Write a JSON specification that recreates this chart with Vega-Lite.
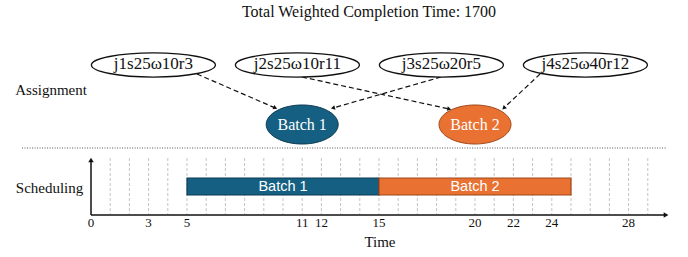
{
  "$schema": "https://vega.github.io/schema/vega-lite/v6.json",
  "width": 688,
  "height": 257,
  "autosize": {"type": "fit", "contains": "padding"},
  "padding": 0,
  "config": {"view": {"stroke": null}, "axis": {"disable": true}},
  "datasets": {
    "grid": [{"t":1},{"t":2},{"t":3},{"t":4},{"t":5},{"t":6},{"t":7},{"t":8},{"t":9},{"t":10},{"t":11},{"t":12},{"t":13},{"t":14},{"t":15},{"t":16},{"t":17},{"t":18},{"t":19},{"t":20},{"t":21},{"t":22},{"t":23},{"t":24},{"t":25},{"t":26},{"t":27},{"t":28},{"t":29}],
    "separator": [{"x": -3.59, "x2": 30.0, "y": 148}],
    "axes": [
      {"axis": "Time", "x": 0, "y": 215, "x2": 29.95, "y2": 215},
      {"axis": "Scheduling", "x": 0, "y": 215, "x2": 0, "y2": 160}
    ],
    "ticks": [{"t":0},{"t":3},{"t":5},{"t":11},{"t":12},{"t":15},{"t":20},{"t":22},{"t":24},{"t":28}],
    "schedule": [
      {"batch": "Batch 1", "start": 5, "end": 15},
      {"batch": "Batch 2", "start": 15, "end": 25}
    ],
    "jobs": [
      {"job": "j1s25ω10r3", "x": 3.25, "y": 65},
      {"job": "j2s25ω10r11", "x": 10.75, "y": 65},
      {"job": "j3s25ω20r5", "x": 18.25, "y": 65},
      {"job": "j4s25ω40r12", "x": 25.75, "y": 65}
    ],
    "batches": [
      {"batch": "Batch 1", "x": 11, "y": 124.5},
      {"batch": "Batch 2", "x": 20, "y": 124.5}
    ],
    "assign": [
      {"job": "j1s25ω10r3", "batch": "Batch 1", "x": 5.52, "y": 74, "x2": 9.6, "y2": 108},
      {"job": "j2s25ω10r11", "batch": "Batch 2", "x": 10.99, "y": 77, "x2": 18.66, "y2": 109},
      {"job": "j3s25ω20r5", "batch": "Batch 1", "x": 18.23, "y": 77, "x2": 12.6, "y2": 108},
      {"job": "j4s25ω40r12", "batch": "Batch 2", "x": 23.39, "y": 74, "x2": 21.5, "y2": 108}
    ],
    "labels": [
      {"text": "Assignment", "x": -2.08, "y": 90},
      {"text": "Scheduling", "x": -2.16, "y": 188},
      {"text": "Time", "x": 15.05, "y": 242}
    ],
    "title": [{"text": "Total Weighted Completion Time: 1700", "x": 14.48, "y": 12}]
  },
  "layer": [
    {
      "data": {"name": "grid"},
      "mark": {"type": "rule", "color": "#c4c4c4", "strokeWidth": 1, "strokeDash": [3, 2]},
      "encoding": {
        "x": {"field": "t", "type": "quantitative", "scale": {"domain": [-4.74, 31.094], "nice": false, "zero": false}},
        "y": {"datum": 158, "type": "quantitative", "scale": {"domain": [0, 257], "reverse": true, "nice": false, "zero": false}},
        "y2": {"datum": 214}
      }
    },
    {
      "data": {"name": "separator"},
      "mark": {"type": "rule", "color": "#555555", "strokeWidth": 1, "strokeDash": [1, 1.5]},
      "encoding": {
        "x": {"field": "x", "type": "quantitative", "scale": {"domain": [-4.74, 31.094], "nice": false, "zero": false}},
        "x2": {"field": "x2"},
        "y": {"field": "y", "type": "quantitative", "scale": {"domain": [0, 257], "reverse": true, "nice": false, "zero": false}}
      }
    },
    {
      "data": {"name": "axes"},
      "mark": {"type": "rule", "color": "#111111", "strokeWidth": 1.5},
      "encoding": {
        "x": {"field": "x", "type": "quantitative", "scale": {"domain": [-4.74, 31.094], "nice": false, "zero": false}},
        "x2": {"field": "x2"},
        "y": {"field": "y", "type": "quantitative", "scale": {"domain": [0, 257], "reverse": true, "nice": false, "zero": false}},
        "y2": {"field": "y2"}
      }
    },
    {
      "data": {"name": "axes"},
      "transform": [{"calculate": "atan2((datum.x2 - datum.x) * 19.2, datum.y - datum.y2) * 180 / PI", "as": "angle"}],
      "mark": {"type": "point", "shape": "triangle-up", "filled": true, "color": "#111111", "size": 30, "opacity": 1},
      "encoding": {
        "x": {"field": "x2", "type": "quantitative", "scale": {"domain": [-4.74, 31.094], "nice": false, "zero": false}},
        "y": {"field": "y2", "type": "quantitative", "scale": {"domain": [0, 257], "reverse": true, "nice": false, "zero": false}},
        "angle": {"field": "angle", "type": "quantitative", "scale": null}
      }
    },
    {
      "data": {"name": "ticks"},
      "mark": {"type": "text", "font": "Liberation Serif", "fontSize": 13, "color": "#111111", "baseline": "middle", "align": "center"},
      "encoding": {
        "x": {"field": "t", "type": "quantitative", "scale": {"domain": [-4.74, 31.094], "nice": false, "zero": false}},
        "y": {"datum": 223, "type": "quantitative", "scale": {"domain": [0, 257], "reverse": true, "nice": false, "zero": false}},
        "text": {"field": "t", "type": "quantitative"}
      }
    },
    {
      "data": {"name": "schedule"},
      "mark": {"type": "rect", "strokeWidth": 1.2},
      "encoding": {
        "x": {"field": "start", "type": "quantitative", "scale": {"domain": [-4.74, 31.094], "nice": false, "zero": false}},
        "x2": {"field": "end"},
        "y": {"datum": 178, "type": "quantitative", "scale": {"domain": [0, 257], "reverse": true, "nice": false, "zero": false}},
        "y2": {"datum": 195},
        "fill": {"field": "batch", "type": "nominal", "scale": {"domain": ["Batch 1", "Batch 2"], "range": ["#156082", "#E97132"]}, "legend": null},
        "stroke": {"field": "batch", "type": "nominal", "scale": {"domain": ["Batch 1", "Batch 2"], "range": ["#0C3A52", "#A0481A"]}, "legend": null}
      }
    },
    {
      "data": {"name": "schedule"},
      "transform": [{"calculate": "(datum.start + datum.end) / 2", "as": "mid"}],
      "mark": {"type": "text", "font": "Liberation Sans", "fontSize": 14.5, "color": "white", "baseline": "middle", "align": "center"},
      "encoding": {
        "x": {"field": "mid", "type": "quantitative", "scale": {"domain": [-4.74, 31.094], "nice": false, "zero": false}},
        "y": {"datum": 186.5, "type": "quantitative", "scale": {"domain": [0, 257], "reverse": true, "nice": false, "zero": false}},
        "text": {"field": "batch", "type": "nominal"}
      }
    },
    {
      "data": {"name": "assign"},
      "mark": {"type": "rule", "color": "#111111", "strokeWidth": 1.2, "strokeDash": [5, 3]},
      "encoding": {
        "x": {"field": "x", "type": "quantitative", "scale": {"domain": [-4.74, 31.094], "nice": false, "zero": false}},
        "x2": {"field": "x2"},
        "y": {"field": "y", "type": "quantitative", "scale": {"domain": [0, 257], "reverse": true, "nice": false, "zero": false}},
        "y2": {"field": "y2"}
      }
    },
    {
      "data": {"name": "assign"},
      "transform": [{"calculate": "atan2((datum.x2 - datum.x) * 19.2, datum.y - datum.y2) * 180 / PI", "as": "angle"}],
      "mark": {"type": "point", "shape": "triangle-up", "filled": true, "color": "#111111", "size": 22, "opacity": 1},
      "encoding": {
        "x": {"field": "x2", "type": "quantitative", "scale": {"domain": [-4.74, 31.094], "nice": false, "zero": false}},
        "y": {"field": "y2", "type": "quantitative", "scale": {"domain": [0, 257], "reverse": true, "nice": false, "zero": false}},
        "angle": {"field": "angle", "type": "quantitative", "scale": null}
      }
    },
    {
      "data": {"name": "jobs"},
      "mark": {"type": "point", "shape": "M1,0C1,0.107,0.552,0.194,0,0.194C-0.552,0.194,-1,0.107,-1,0C-1,-0.107,-0.552,-0.194,0,-0.194C0.552,-0.194,1,-0.107,1,0Z", "size": 15376, "filled": true, "fill": "white", "stroke": "#111111", "strokeWidth": 1.3, "opacity": 1},
      "encoding": {
        "x": {"field": "x", "type": "quantitative", "scale": {"domain": [-4.74, 31.094], "nice": false, "zero": false}},
        "y": {"field": "y", "type": "quantitative", "scale": {"domain": [0, 257], "reverse": true, "nice": false, "zero": false}}
      }
    },
    {
      "data": {"name": "jobs"},
      "mark": {"type": "text", "font": "Liberation Serif", "fontSize": 17, "color": "#111111", "baseline": "middle", "align": "center", "dy": -1},
      "encoding": {
        "x": {"field": "x", "type": "quantitative", "scale": {"domain": [-4.74, 31.094], "nice": false, "zero": false}},
        "y": {"field": "y", "type": "quantitative", "scale": {"domain": [0, 257], "reverse": true, "nice": false, "zero": false}},
        "text": {"field": "job", "type": "nominal"}
      }
    },
    {
      "data": {"name": "batches"},
      "mark": {"type": "point", "shape": "M1,0C1,0.299,0.552,0.542,0,0.542C-0.552,0.542,-1,0.299,-1,0C-1,-0.299,-0.552,-0.542,0,-0.542C0.552,-0.542,1,-0.299,1,0Z", "size": 5184, "filled": true, "strokeWidth": 1, "opacity": 1},
      "encoding": {
        "x": {"field": "x", "type": "quantitative", "scale": {"domain": [-4.74, 31.094], "nice": false, "zero": false}},
        "y": {"field": "y", "type": "quantitative", "scale": {"domain": [0, 257], "reverse": true, "nice": false, "zero": false}},
        "fill": {"field": "batch", "type": "nominal", "scale": {"domain": ["Batch 1", "Batch 2"], "range": ["#156082", "#E97132"]}, "legend": null},
        "stroke": {"field": "batch", "type": "nominal", "scale": {"domain": ["Batch 1", "Batch 2"], "range": ["#0C3A52", "#A0481A"]}, "legend": null}
      }
    },
    {
      "data": {"name": "batches"},
      "mark": {"type": "text", "font": "Liberation Serif", "fontSize": 16, "color": "white", "baseline": "middle", "align": "center"},
      "encoding": {
        "x": {"field": "x", "type": "quantitative", "scale": {"domain": [-4.74, 31.094], "nice": false, "zero": false}},
        "y": {"field": "y", "type": "quantitative", "scale": {"domain": [0, 257], "reverse": true, "nice": false, "zero": false}},
        "text": {"field": "batch", "type": "nominal"}
      }
    },
    {
      "data": {"name": "labels"},
      "mark": {"type": "text", "font": "Liberation Serif", "fontSize": 15, "color": "#111111", "baseline": "middle", "align": "center"},
      "encoding": {
        "x": {"field": "x", "type": "quantitative", "scale": {"domain": [-4.74, 31.094], "nice": false, "zero": false}},
        "y": {"field": "y", "type": "quantitative", "scale": {"domain": [0, 257], "reverse": true, "nice": false, "zero": false}},
        "text": {"field": "text", "type": "nominal"}
      }
    },
    {
      "data": {"name": "title"},
      "mark": {"type": "text", "font": "Liberation Serif", "fontSize": 16, "color": "#111111", "baseline": "middle", "align": "center"},
      "encoding": {
        "x": {"field": "x", "type": "quantitative", "scale": {"domain": [-4.74, 31.094], "nice": false, "zero": false}},
        "y": {"field": "y", "type": "quantitative", "scale": {"domain": [0, 257], "reverse": true, "nice": false, "zero": false}},
        "text": {"field": "text", "type": "nominal"}
      }
    }
  ]
}
